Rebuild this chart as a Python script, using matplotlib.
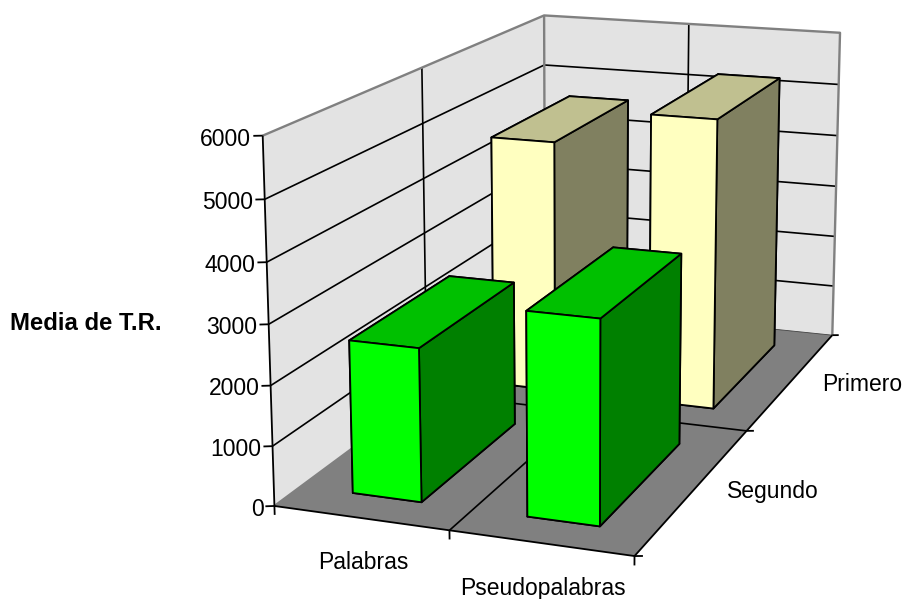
import numpy as np
import matplotlib
matplotlib.use('Agg')
import matplotlib.pyplot as plt
from mpl_toolkits.mplot3d import proj3d
from mpl_toolkits.mplot3d.art3d import Poly3DCollection, Line3DCollection

plt.rcParams['font.family'] = ['Liberation Sans', 'DejaVu Sans']

# Chart data
categorias = ['Palabras', 'Pseudopalabras']
series = ['Segundo', 'Primero']
media_segundo = [2560, 3350]
media_primero = [4620, 5250]
z_ticks = [0, 1000, 2000, 3000, 4000, 5000, 6000]
z_max = 6000

# Camera calibration: where box corners land on the canvas (pixels, y down)
box_world = np.array([
    [0, 0, 6000], [0, 2, 6000], [2, 2, 6000], [0, 0, 0], [2, 0, 0], [2, 2, 0],
    [1, 0, 0], [1, 2, 6000], [0, 1, 6000], [2, 1, 0], [0, 0, 3000], [2, 2, 3000],
    [0, 2, 5000],
], dtype=float)
box_pixels = np.array([
    [262.5, 136], [544.5, 15.7], [840.7, 32.3], [274.3, 506], [634.3, 556], [832.3, 336],
    [450, 530], [688.3, 24.3], [422.3, 68.3], [747.3, 430.7], [268, 324], [835, 186],
    [544.3, 64],
])


def fit_camera(world, pixels):
    # direct linear transform, returns a 4x4 matrix for mplot3d
    rows = []
    for (x, y, z), (u, v) in zip(world, pixels):
        rows.append([x, y, z, 1, 0, 0, 0, 0, -u * x, -u * y, -u * z, -u])
        rows.append([0, 0, 0, 0, x, y, z, 1, -v * x, -v * y, -v * z, -v])
    A = np.array(rows)
    scale = np.array([1, 1, 1 / 3000, 1] * 2 + [1 / 909, 1 / 909, 1 / 2700000, 1 / 909])
    p = np.linalg.svd(A * scale)[2][-1] * scale
    P = p.reshape(3, 4)
    if P[2, 3] < 0:
        P = -P
    # third row gives a depth that grows away from the viewer
    return np.vstack([P[0], P[1], [0, 0, 0, -1], P[2]])


fig = plt.figure(figsize=(9.09, 5.99), dpi=100, facecolor='white')
# mplot3d keeps its axes square, so use a 909 px square centred on the canvas
ax = fig.add_axes([0, -155 / 599, 1, 909 / 599], projection='3d', computed_zorder=False)
ax.set_xticks([])
ax.set_yticks([])
ax.set_zticks([])
ax.set_axis_off()
ax.patch.set_visible(False)
camera = fit_camera(box_world, box_pixels)
ax.get_proj = lambda: camera
ax.viewLim.intervalx = (0, 909)
ax.viewLim.intervaly = (754, -155)


def linea(xs, ys, zs, color='k', lw=1.3, zorder=4):
    puntos = list(zip(xs, ys, zs))
    ax.add_collection3d(Line3DCollection([puntos], colors=color, linewidths=lw, zorder=zorder))


def etiqueta(x, y, z, texto, ha='center'):
    # place a label at a point of the box, as plain figure text
    u, v, _ = proj3d.proj_transform(x, y, z, camera)
    fig.text(u / 909, 1 - v / 599, texto, ha=ha, va='center', fontsize=16.5, color='k')


# Walls and floor
WALL = '#e3e3e3'
FLOOR = '#808080'
EDGE = '#808080'
walls = [
    [(0, 0, 0), (0, 2, 0), (0, 2, z_max), (0, 0, z_max)],
    [(0, 2, 0), (2, 2, 0), (2, 2, z_max), (0, 2, z_max)],
]
ax.add_collection3d(Poly3DCollection(walls, facecolors=WALL, edgecolors='none', zorder=1))
ax.add_collection3d(Poly3DCollection([[(0, 0, 0), (2, 0, 0), (2, 2, 0), (0, 2, 0)]],
                                     facecolors=FLOOR, edgecolors='none', zorder=3))

# Gridlines on the walls
for z in z_ticks[1:-1]:
    linea([0, 0, 2], [0, 2, 2], [z, z, z], lw=1.2, zorder=2)
linea([0, 0], [1, 1], [0, z_max], lw=1.2, zorder=2)
linea([1, 1], [2, 2], [0, z_max], lw=1.2, zorder=2)

# Wall outline
linea([0, 0, 2, 2], [0, 2, 2, 2], [z_max, z_max, z_max, 0], color=EDGE, lw=1.7, zorder=2)
linea([0, 0, 0], [0, 2, 2], [0, 0, z_max], color=EDGE, lw=1.7, zorder=2)
linea([0, 2], [2, 2], [0, 0], color='#404040', lw=0.6)

# Floor lines and axes
linea([1, 1], [0, 2], [0, 0], lw=1.2)
linea([0, 2], [1, 1], [0, 0], lw=1.2)
linea([0, 2, 2], [0, 0, 2], [0, 0, 0])
linea([0, 0], [0, 0], [0, z_max])

# Ticks and tick labels on the value axis
for z in z_ticks:
    linea([0, -0.0425], [0, -0.0102], [z, z])
    etiqueta(-0.052, -0.0125, z - 50, str(z), ha='right')

# Category ticks and labels
for i in range(3):
    linea([i, i], [0, 0], [0, -150])
    linea([2, 2.039], [i, i + 0.0077], [0, 0])
for i, nombre in enumerate(categorias):
    etiqueta(i + 0.51, 0, -735, nombre)
for i, nombre in enumerate(series):
    etiqueta(2.435, i + 0.5, 120 - 60 * i, nombre)

# Bars, back row first. Face order is bottom, top, front, back, left, right
BAR_X = 0.305
BAR_W = 0.4
BAR_Y = 0.158
BAR_D = 0.67
filas = [
    (1, media_primero, ['#ffffc0', '#c0c090', '#ffffc0', '#ffffc0', '#808060', '#808060']),
    (0, media_segundo, ['#00ff00', '#00c000', '#00ff00', '#00ff00', '#008000', '#008000']),
]
orden = 10
for fila, valores, caras in filas:
    for i, valor in enumerate(valores):
        ax.bar3d(i + BAR_X, fila + BAR_Y, 0, BAR_W, BAR_D, valor, color=caras, shade=False,
                 edgecolor='k', linewidth=1.3, zorder=orden)
        orden += 1

fig.text(10 / 909, 1 - 323 / 599, 'Media de T.R.', fontsize=17.2, fontweight='bold',
         ha='left', va='center', color='k')

fig.savefig('out.png', dpi=100)
